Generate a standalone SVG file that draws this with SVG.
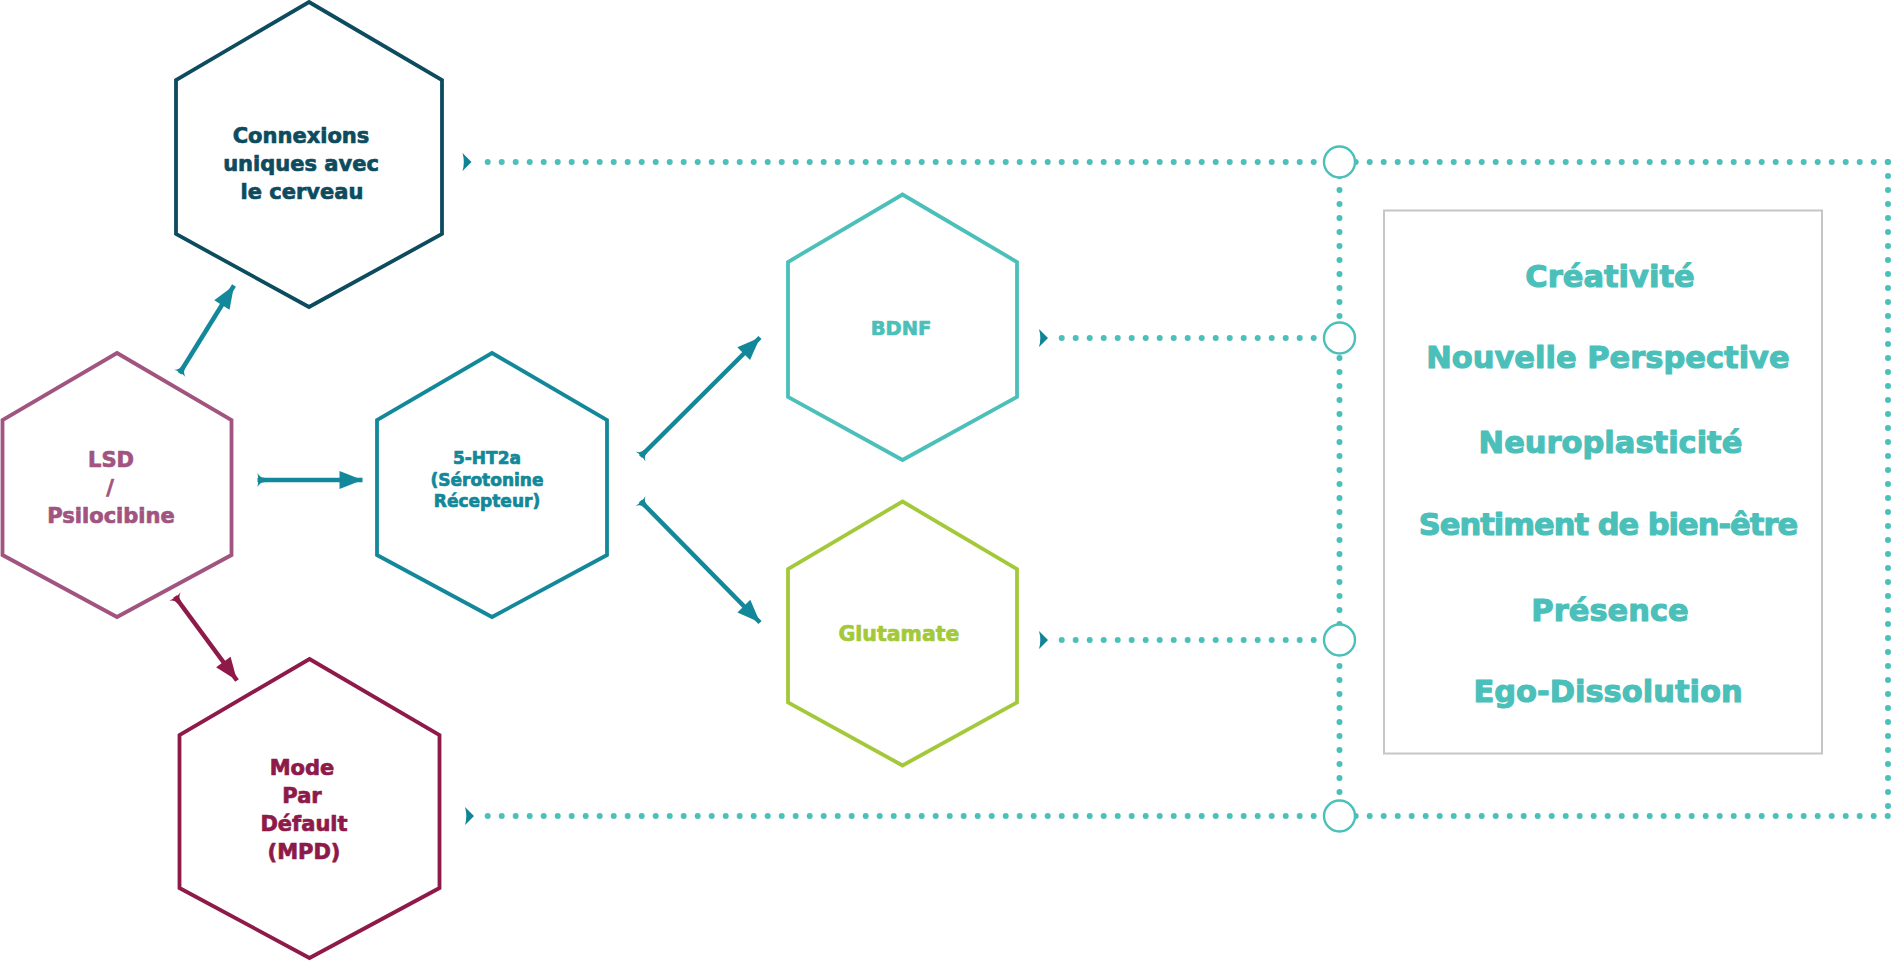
<svg xmlns="http://www.w3.org/2000/svg" width="1900" height="961" viewBox="0 0 1900 961">
<style>
.hex{fill:none;stroke-width:3.8;stroke-linejoin:miter}
.t{font-family:"DejaVu Sans","Liberation Sans",sans-serif;font-weight:bold;text-anchor:middle;stroke-width:0.7;stroke-linejoin:round}
.big{stroke-width:1.1}
.dot{fill:none;stroke:#4bbfb9;stroke-width:6;stroke-linecap:round;stroke-dasharray:0 14}
.arr{fill:none;stroke-width:4.5}
.ring{fill:#fff;stroke:#4bbfb9;stroke-width:2.4}
.chev{fill:#0e8496}
</style>
<defs>
<marker id="headT" markerUnits="userSpaceOnUse" markerWidth="30" markerHeight="24" refX="23" refY="12" orient="auto" overflow="visible"><path d="M0,3 L23,12 L0,21 Z" fill="#12889a"/></marker>
<marker id="tailT" markerUnits="userSpaceOnUse" markerWidth="10" markerHeight="16" refX="0" refY="8" orient="auto" overflow="visible"><path d="M0,1 Q2.5,6 7,5.8 L7,10.2 Q2.5,10 0,15 Q1.8,8 0,1 Z" fill="#12889a"/></marker>
<marker id="headM" markerUnits="userSpaceOnUse" markerWidth="30" markerHeight="24" refX="23" refY="12" orient="auto" overflow="visible"><path d="M0,3 L23,12 L0,21 Z" fill="#8e1a4a"/></marker>
<marker id="tailM" markerUnits="userSpaceOnUse" markerWidth="10" markerHeight="16" refX="0" refY="8" orient="auto" overflow="visible"><path d="M0,1 Q2.5,6 7,5.8 L7,10.2 Q2.5,10 0,15 Q1.8,8 0,1 Z" fill="#8e1a4a"/></marker>
<path id="chevron" d="M0,-9 L9,0 L0,9 Q2.6,0 0,-9 Z"/>
</defs>
<rect width="1900" height="961" fill="#fff"/>

<g id="connectors">
<line class="arr" x1="179.6" y1="373.3" x2="234" y2="285.5" stroke="#12889a" marker-start="url(#tailT)" marker-end="url(#headT)"/>
<line class="arr" x1="257.5" y1="480" x2="362.5" y2="480" stroke="#12889a" marker-start="url(#tailT)" marker-end="url(#headT)"/>
<line class="arr" x1="175" y1="596.5" x2="237" y2="680.5" stroke="#8e1a4a" marker-start="url(#tailM)" marker-end="url(#headM)"/>
<line class="arr" x1="640.5" y1="456.5" x2="760" y2="337.5" stroke="#12889a" marker-start="url(#tailT)" marker-end="url(#headT)"/>
<line class="arr" x1="640.5" y1="501" x2="760" y2="622.5" stroke="#12889a" marker-start="url(#tailT)" marker-end="url(#headT)"/>

<path class="dot" d="M487.7,162 H1888"/>
<path class="dot" d="M487.7,816 H1888"/>
<path class="dot" d="M1061.7,338 H1326"/>
<path class="dot" d="M1061.7,640 H1326"/>
<path class="dot" d="M1339.5,162 V816"/>
<path class="dot" d="M1888,162 V816"/>

<use href="#chevron" class="chev" x="462.5" y="162"/>
<use href="#chevron" class="chev" x="465" y="816"/>
<use href="#chevron" class="chev" x="1039" y="338"/>
<use href="#chevron" class="chev" x="1039" y="640"/>

<circle class="ring" cx="1339.5" cy="162" r="15.5"/>
<circle class="ring" cx="1339.5" cy="338" r="15.5"/>
<circle class="ring" cx="1339.5" cy="640" r="15.5"/>
<circle class="ring" cx="1339.5" cy="816" r="15.5"/>
</g>

<g id="node-connexions">
<polygon class="hex" stroke="#0d4b5f" points="309,2 442,80 442,234 309,307 176,234 176,80"/>
<text class="t" fill="#0d4b5f" stroke="#0d4b5f" font-size="21"><tspan x="301" y="143">Connexions</tspan><tspan x="301" y="171">uniques avec</tspan><tspan x="302" y="199">le cerveau</tspan></text>
</g>

<g id="node-lsd">
<polygon class="hex" stroke="#a0547f" points="117,353 231.5,420 231.5,555 117,617 2.5,555 2.5,420"/>
<text class="t" fill="#a0547f" stroke="#a0547f" font-size="21"><tspan x="111" y="467">LSD</tspan><tspan x="110" y="495">/</tspan><tspan x="111" y="523">Psilocibine</tspan></text>
</g>

<g id="node-5ht2a">
<polygon class="hex" stroke="#12889a" points="492,353 607,420 607,555 492,617 377,555 377,420"/>
<text class="t" fill="#12889a" stroke="#12889a" font-size="17"><tspan x="487" y="464">5-HT2a</tspan><tspan x="487" y="485.5">(Sérotonine</tspan><tspan x="487" y="507">Récepteur)</tspan></text>
</g>

<g id="node-bdnf">
<polygon class="hex" stroke="#4bbfb9" points="902.5,194.5 1017,262 1017,397 902.5,460 788,397 788,262"/>
<text class="t" fill="#4bbfb9" stroke="#4bbfb9" font-size="19.5" x="901" y="335">BDNF</text>
</g>

<g id="node-glutamate">
<polygon class="hex" stroke="#a3c93a" points="902.5,501.5 1017,569 1017,702.5 902.5,765.5 788,702.5 788,569"/>
<text class="t" fill="#a3c93a" stroke="#a3c93a" font-size="20.5" x="899" y="640.5">Glutamate</text>
</g>

<g id="node-mpd">
<polygon class="hex" stroke="#8e1a4a" points="309.5,659 439.5,735 439.5,888 309.5,958 179.5,888 179.5,735"/>
<text class="t" fill="#8e1a4a" stroke="#8e1a4a" font-size="21"><tspan x="302" y="774.5">Mode</tspan><tspan x="302" y="802.5">Par</tspan><tspan x="304" y="831">Défault</tspan><tspan x="304" y="859">(MPD)</tspan></text>
</g>

<g id="node-effects">
<rect x="1384" y="210.5" width="438" height="543" fill="none" stroke="#c6c6c6" stroke-width="2"/>
<text class="t big" fill="#4bbfb9" stroke="#4bbfb9" font-size="30.5"><tspan x="1610" y="287">Créativité</tspan><tspan x="1608" y="367.5">Nouvelle Perspective</tspan><tspan x="1610.5" y="453">Neuroplasticité</tspan><tspan x="1608" y="535" letter-spacing="-1">Sentiment de bien-être</tspan><tspan x="1610" y="620.5">Présence</tspan><tspan x="1608" y="701.5">Ego-Dissolution</tspan></text>
</g>
</svg>
